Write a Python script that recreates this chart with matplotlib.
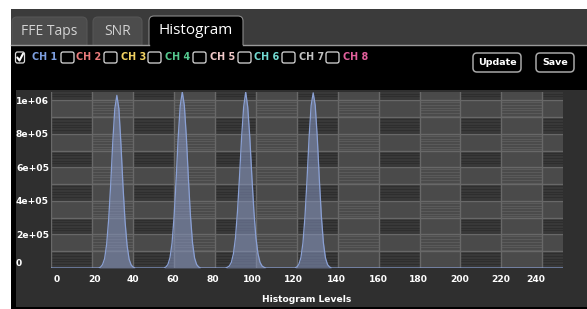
import numpy as np
import matplotlib
matplotlib.use("Agg")
import matplotlib.pyplot as plt
from matplotlib.patches import Rectangle, FancyBboxPatch
from matplotlib.transforms import offset_copy

# ---------------- data ----------------
tabs = ["FFE Taps", "SNR", "Histogram"]
channels = ["CH 1", "CH 2", "CH 3", "CH 4", "CH 5", "CH 6", "CH 7", "CH 8"]
channel_colors = ["#7d9fe0", "#ec7c7c", "#f2d262", "#55c98f", "#f2caca", "#72dad2", "#c4c4c4", "#e2609c"]
channel_checked = [True, False, False, False, False, False, False, False]
buttons = ["Update", "Save"]

levels = np.arange(256)
peak1_levels = list(range(24, 41))
peak1_counts = [5e3, 2.0e4, 5.5e4, 1.4e5, 2.9e5, 5.0e5, 7.5e5, 9.5e5, 1.03e6,
                9.5e5, 7.4e5, 4.9e5, 2.8e5, 1.35e5, 5.2e4, 1.8e4, 5e3]
peak2_levels = list(range(56, 73))
peak2_counts = [6e3, 2.2e4, 6.2e4, 1.5e5, 3.1e5, 5.3e5, 7.8e5, 9.7e5, 1.05e6,
                9.7e5, 7.8e5, 5.3e5, 3.1e5, 1.5e5, 6.0e4, 2.1e4, 6e3]
peak3_levels = list(range(86, 105))
peak3_counts = [4e3, 1.2e4, 3.4e4, 8.5e4, 1.8e5, 3.4e5, 5.5e5, 7.8e5, 9.6e5, 1.05e6,
                9.6e5, 7.8e5, 5.5e5, 3.4e5, 1.8e5, 8.5e4, 3.4e4, 1.2e4, 4e3]
peak4_levels = list(range(120, 137))
peak4_counts = [6e3, 2.2e4, 6.2e4, 1.5e5, 3.1e5, 5.3e5, 7.8e5, 9.7e5, 1.045e6,
                9.7e5, 7.8e5, 5.3e5, 3.1e5, 1.5e5, 6.0e4, 2.1e4, 6e3]

counts = np.zeros(256)
for lv, ct in [(peak1_levels, peak1_counts), (peak2_levels, peak2_counts),
               (peak3_levels, peak3_counts), (peak4_levels, peak4_counts)]:
    counts[lv] = ct

xticks = list(range(0, 241, 20))
xtick_labels = [str(v) for v in xticks]
yticks = [0, 2e5, 4e5, 6e5, 8e5, 1e6]
ytick_labels = ["0", "2e+05", "4e+05", "6e+05", "8e+05", "1e+06"]
xlabel = "Histogram Levels"

# ---------------- figure ----------------
W, H = 587, 309
fig = plt.figure(figsize=(W / 100, H / 100), dpi=100, facecolor="white")
bg = fig.add_axes([0, 0, 1, 1], zorder=0)
bg.set_xlim(0, W)
bg.set_ylim(H, 0)
bg.axis("off")

# tab bar
bg.add_patch(Rectangle((11, 9), W - 11, 36, color="#3b3b3b", lw=0))
tab_boxes = [(12, 17, 75), (93, 17, 49), (149, 16, 94)]
for i, (name, (tx, ty, tw)) in enumerate(zip(tabs, tab_boxes)):
    active = (i == 2)
    bg.add_patch(FancyBboxPatch((tx, ty), tw, 40,
                                boxstyle="round,pad=0,rounding_size=5",
                                fc="#000000" if active else "#4c4c4c",
                                ec="#8a8a8a" if active else "#555555", lw=0.8))
    bg.text(tx + tw / 2, 31.5 if not active else 31, name,
            ha="center", va="center",
            color="#ffffff" if active else "#d2d2d2",
            fontsize=11 if active else 10, family="Open Sans")
# black panel
bg.add_patch(Rectangle((11, 45), W - 11, H - 45, color="#000000", lw=0))
bg.plot([11, 149], [44.6, 44.6], color="#9a9a9a", lw=1.0)
bg.plot([243, W], [44.6, 44.6], color="#9a9a9a", lw=1.0)

# checkboxes
box_x = [15.5, 61, 104, 148, 193, 238, 282, 326]
box_w = [9, 13, 13, 13, 13, 13, 13, 13]
label_x = [45, 89, 134, 178, 223, 267, 311.5, 356]
for bx, bw, lx, name, col, chk in zip(box_x, box_w, label_x, channels,
                                      channel_colors, channel_checked):
    bg.add_patch(FancyBboxPatch((bx, 52), bw, 11,
                                boxstyle="round,pad=0,rounding_size=2",
                                fc="#000000", ec="#dcdcdc", lw=0.9))
    if chk:
        bg.plot([bx + 1.8, bx + 4, bx + 7.5], [57.5, 60.5, 53.8],
                color="#ffffff", lw=1.5, solid_capstyle="round")
    bg.text(lx, 57.5, name, ha="center", va="center", color=col,
            fontsize=6.9, fontweight="bold", family="DejaVu Sans")

# buttons
btn_boxes = [(473, 53, 48), (536, 53, 38)]
for name, (bx, by, bw) in zip(buttons, btn_boxes):
    bg.add_patch(FancyBboxPatch((bx, by), bw, 19,
                                boxstyle="round,pad=0,rounding_size=4",
                                fc="#000000", ec="#a8a8a8", lw=1.1))
    bg.text(bx + bw / 2, by + 9.5, name, ha="center", va="center",
            color="#ffffff", fontsize=6.8, fontweight="bold", family="DejaVu Sans")

# chart region background
bg.add_patch(Rectangle((16, 90), W - 16, 217, color="#2f2f2f", lw=0))

# ---------------- plot ----------------
px_l, px_r, px_t, px_b = 51.4, 562.7, 92, 268
ax = fig.add_axes([px_l / W, (H - px_b) / H, (px_r - px_l) / W, (px_b - px_t) / H], zorder=1)
xmax, ymax = 250, 1.05e6
ax.set_xlim(0, xmax)
ax.set_ylim(0, ymax)
ax.set_facecolor("#4a4a4a")
for s in ax.spines.values():
    s.set_visible(False)
ax.set_xticks([])
ax.set_yticks([])

# checkerboard with striped cells
for k in range(13):
    x0 = k * 20
    x1 = min(x0 + 20, xmax)
    for j in range(11):
        y0 = j * 1e5
        y1 = min(y0 + 1e5, ymax)
        if (k + j) % 2 == 0:
            dark = (k % 2 == 0)
            ax.add_patch(Rectangle((x0, y0), x1 - x0, y1 - y0,
                                   color="#393939" if dark else "#4b4b4b", lw=0, zorder=0.5))
            ys = np.arange(y0 + 0.8e4, y1, 1.6e4)
            ax.hlines(ys, x0, x1, color="#2e2e2e" if dark else "#5a5a5a",
                      lw=0.8, zorder=0.6)

for v in range(0, 260, 20):
    ax.axvline(v, color="#686868", lw=1.0, zorder=1)
for v in np.arange(1e5, 1.05e6, 1e5):
    ax.axhline(v, color="#686868", lw=1.0, zorder=1)

ax.fill_between(levels, counts, 0, color="#8494bf", alpha=0.55, lw=0, zorder=2)
ax.plot(levels, counts, color="#8aa0d4", lw=0.9, zorder=3)

# tick labels
x_off = [5, 2.5, 0, -1, -2, -4, -3, -1, 0, -1, -1, -1, -6]
xt = ax.get_xaxis_transform()
for v, lab, dx in zip(xticks, xtick_labels, x_off):
    tr = offset_copy(xt, fig=fig, x=dx, y=-11, units="dots")
    ax.text(v, 0, lab, transform=tr, ha="center", va="center", color="#ffffff",
            fontsize=6.6, fontweight="bold", family="DejaVu Sans", clip_on=False)
yt = ax.get_yaxis_transform()
for v, lab in zip(yticks, ytick_labels):
    dy = 5 if v == 0 else -1
    tr = offset_copy(yt, fig=fig, x=0, y=dy, units="dots")
    ax.text((16 - px_l) / (px_r - px_l), v, lab, transform=tr, ha="left", va="center",
            color="#ffffff", fontsize=6.6, fontweight="bold", family="DejaVu Sans",
            clip_on=False)

ax.text(0.5, -(299 - px_b) / (px_b - px_t), xlabel, transform=ax.transAxes,
        ha="center", va="center", color="#ffffff", fontsize=6.6,
        fontweight="bold", family="DejaVu Sans", clip_on=False)

fig.savefig("out.png", dpi=100, facecolor="white")
